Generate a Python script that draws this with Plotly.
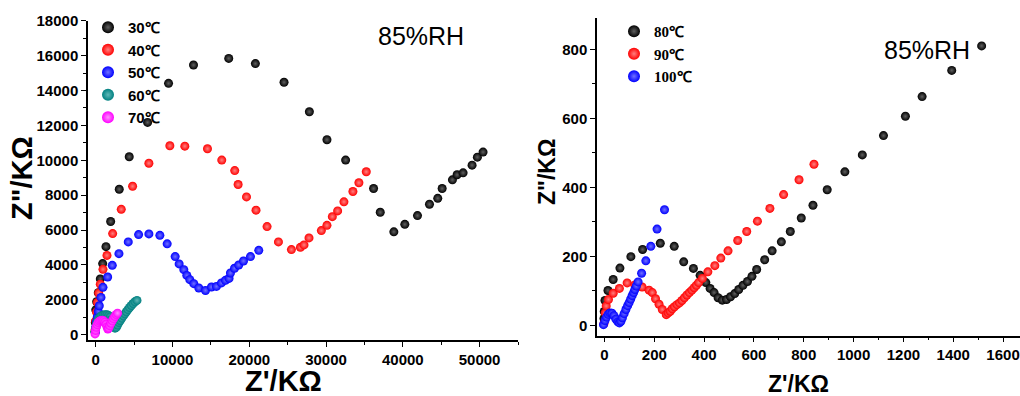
import plotly.graph_objects as go

# ---------------- Nyquist data, 85%RH, low temperatures (Z', Z'' in kOhm) ----------------
t30_re = [-80, -40, 10, 130, 340, 600, 910, 1340, 1950, 3070, 4370, 6760, 9490, 12740, 17330,
          20800, 24530, 27830, 30120, 32550, 36190, 37060, 38830, 40260, 41910, 43470, 44550,
          45120, 46460, 47070, 47850, 49020, 49710, 50450]
t30_im = [200, 700, 1430, 1890, 2410, 3200, 4080, 5050, 6490, 8340, 10200, 12170, 14410, 15460,
          15840, 15540, 14470, 12780, 11180, 10010, 8380, 7020, 5900, 6330, 6830, 7480, 7820,
          8380, 8880, 9170, 9280, 9720, 10180, 10470]

t40_re = [-60, 0, 100, 230, 390, 600, 950, 1470, 2210, 3330, 4810, 6930, 9660, 11610, 14560,
          16420, 18110, 18550, 19640, 20880, 22320, 23800, 25490, 26660, 27130, 27780, 29390,
          30120, 30820, 31510, 32330, 33500, 34280, 35240]
t40_im = [300, 800, 1300, 1850, 2390, 2900, 3750, 4550, 5800, 7190, 8510, 9830, 10830, 10810,
          10660, 10010, 9410, 8610, 7900, 7140, 6200, 5320, 4880, 5010, 5150, 5550, 5970, 6270,
          6770, 7100, 7620, 8210, 8710, 9340]

t50_re = [-40, 20, 100, 210, 340, 470, 690, 950, 1560, 2160, 3030, 4240, 5590, 6930, 8360, 9310,
          10350, 10870, 11480, 11870, 12260, 12780, 13430, 14300, 15080, 15730, 16380, 16900,
          17370, 17550, 18080, 18630, 19250, 20160, 21240]
t50_im = [150, 450, 750, 1020, 1340, 1660, 2140, 2720, 3310, 3980, 4650, 5320, 5740, 5780, 5700,
          5210, 4480, 4060, 3730, 3400, 3160, 2930, 2680, 2540, 2740, 2770, 2970, 3120, 3230,
          3540, 3810, 4000, 4230, 4480, 4840]

t60_re = [-80, 0, 120, 260, 420, 600, 800, 1020, 1250, 1480, 1700, 1900, 2080, 2250, 2400, 2520,
          2680, 2850, 3020, 3200, 3400, 3600, 3800, 4000, 4200, 4420, 4650, 4880, 5120, 5380]
t60_im = [150, 380, 620, 800, 930, 1030, 1090, 1130, 1150, 1140, 1100, 1020, 880, 700, 520, 380,
          420, 560, 700, 820, 950, 1080, 1200, 1320, 1440, 1560, 1680, 1790, 1890, 1970]

t70_re = [-80, -20, 60, 180, 330, 500, 680, 860, 1040, 1200, 1350, 1480, 1580, 1680, 1820, 1980,
          2150, 2320, 2500, 2680, 2850]
t70_im = [50, 250, 430, 580, 700, 780, 820, 830, 800, 720, 600, 450, 330, 380, 520, 660, 800,
          930, 1050, 1160, 1240]

# ---------------- Nyquist data, 85%RH, high temperatures ----------------
t80_re = [-2, -1, 2, 14, 35, 62, 106, 153, 224, 280, 318, 357, 384, 407, 424, 440, 456, 473, 490,
          506, 523, 539, 556, 574, 592, 611, 643, 673, 710, 746, 790, 837, 894, 965, 1035, 1120,
          1208, 1275, 1394, 1514]
t80_im = [20, 40, 72, 101, 133, 166, 199, 220, 238, 229, 184, 165, 145, 124, 107, 95, 80, 73, 75,
          83, 92, 104, 116, 127, 142, 162, 190, 216, 242, 272, 311, 348, 393, 445, 494, 550, 606,
          663, 739, 810]

t90_re = [-2, 3, 7, 16, 35, 60, 91, 122, 151, 179, 192, 205, 219, 232, 248, 256, 264, 272, 281,
          291, 301, 311, 321, 331, 341, 351, 360, 369, 378, 393, 415, 443, 467, 496, 535, 571,
          614, 664, 719, 781, 841]
t90_im = [5, 36, 56, 75, 93, 107, 123, 117, 111, 102, 95, 77, 61, 46, 31, 36, 41, 48, 54, 60, 65,
          72, 80, 88, 95, 102, 109, 116, 124, 136, 155, 173, 195, 216, 246, 272, 302, 339, 379,
          422, 467]

t100_re = [-4, 2, 8, 15, 22, 30, 38, 46, 54, 60, 66, 72, 79, 86, 93, 99, 105, 111, 117, 122, 128,
           135, 149, 166, 186, 211, 241]
t100_im = [2, 14, 24, 32, 36, 35, 28, 18, 10, 7, 12, 22, 34, 46, 57, 66, 76, 86, 95, 104, 114,
           126, 151, 187, 229, 279, 335]

left_series = [
    ("30℃", t30_re, t30_im, "#000000", "#606060"),
    ("40℃", t40_re, t40_im, "#ff0000", "#ff8080"),
    ("50℃", t50_re, t50_im, "#0000ff", "#7070ff"),
    ("60℃", t60_re, t60_im, "#008080", "#60b8b8"),
    ("70℃", t70_re, t70_im, "#ff00ff", "#ff90ff"),
]
right_series = [
    ("80℃", t80_re, t80_im, "#000000", "#606060"),
    ("90℃", t90_re, t90_im, "#ff0000", "#ff8080"),
    ("100℃", t100_re, t100_im, "#0000ff", "#7070ff"),
]

W, H = 1020, 396
fig = go.Figure()

for name, xs, ys, col, hi in left_series:
    fig.add_trace(go.Scatter(
        x=xs, y=ys, mode="markers", name=name, xaxis="x", yaxis="y", legend="legend",
        marker=dict(size=9, color=col, line=dict(width=0),
                    gradient=dict(type="radial", color=hi)),
    ))

for name, xs, ys, col, hi in right_series:
    fig.add_trace(go.Scatter(
        x=xs, y=ys, mode="markers", name=name, xaxis="x2", yaxis="y2", legend="legend2",
        marker=dict(size=9, color=col, line=dict(width=0),
                    gradient=dict(type="radial", color=hi)),
    ))

tickfont = dict(family="Arial, Liberation Sans", size=15, color="black", weight="bold")
axis_common = dict(
    showgrid=False, zeroline=False, showline=True, linecolor="black", linewidth=1.5,
    ticks="outside", ticklen=5, tickwidth=1.3, tickcolor="black", tickfont=tickfont,
    mirror=False, automargin=False, ticklabeloverflow="allow", tickformat="d",
)

fig.update_layout(
    width=W, height=H, margin=dict(l=0, r=0, t=0, b=0, autoexpand=False),
    paper_bgcolor="white", plot_bgcolor="white",
    xaxis=dict(domain=[88 / W, 518 / W], range=[-1000, 55000], anchor="y",
               tickvals=[0, 10000, 20000, 30000, 40000, 50000],
               minor=dict(dtick=5000, tick0=0, ticks="outside", ticklen=3, tickcolor="black"),
               **axis_common),
    yaxis=dict(domain=[(H - 340) / H, (H - 20.7) / H], range=[-300, 18000], anchor="x",
               dtick=2000, tick0=0,
               minor=dict(dtick=1000, tick0=0, ticks="outside", ticklen=3, tickcolor="black"),
               **axis_common),
    xaxis2=dict(domain=[597 / W, 1.0], range=[-30, 1668], anchor="y2",
                dtick=200, tick0=0,
                minor=dict(dtick=100, tick0=0, ticks="outside", ticklen=3, tickcolor="black"),
                **axis_common),
    yaxis2=dict(domain=[(H - 335.7) / H, (H - 18.3) / H], range=[-30, 890], anchor="x2",
                dtick=200, tick0=0,
                minor=dict(dtick=100, tick0=0, ticks="outside", ticklen=3, tickcolor="black"),
                **axis_common),
    legend=dict(x=88 / W, y=1 - 11 / H, xanchor="left", yanchor="top",
                bgcolor="rgba(0,0,0,0)", borderwidth=0, tracegroupgap=0,
                font=dict(family="Arial, Liberation Sans", size=15, color="black", weight="bold"),
                itemsizing="constant"),
    legend2=dict(x=614 / W, y=1 - 15 / H, xanchor="left", yanchor="top",
                 bgcolor="rgba(0,0,0,0)", borderwidth=0, tracegroupgap=0,
                 font=dict(family="Times New Roman, Liberation Serif", size=15, color="black",
                           weight="bold"),
                 itemsizing="constant"),
)

ann_title = dict(family="Arial, Liberation Sans", color="black", weight="bold")
annotations = [
    dict(text="85%RH", x=421 / W, y=1 - 36 / H, xref="paper", yref="paper", showarrow=False,
         xanchor="center", yanchor="middle",
         font=dict(family="Arial, Liberation Sans", size=25, color="black")),
    dict(text="85%RH", x=927 / W, y=1 - 50 / H, xref="paper", yref="paper", showarrow=False,
         xanchor="center", yanchor="middle",
         font=dict(family="Arial, Liberation Sans", size=25, color="black")),
    dict(text="Z'/KΩ", x=283 / W, y=1 - 381 / H, xref="paper", yref="paper", showarrow=False,
         xanchor="center", yanchor="middle", font=dict(size=29, **ann_title)),
    dict(text='Z"/KΩ', x=22 / W, y=1 - 178 / H, xref="paper", yref="paper", showarrow=False,
         xanchor="center", yanchor="middle", textangle=-90, font=dict(size=29, **ann_title)),
    dict(text="Z'/KΩ", x=798 / W, y=1 - 384 / H, xref="paper", yref="paper", showarrow=False,
         xanchor="center", yanchor="middle", font=dict(size=23, **ann_title)),
    dict(text='Z"/KΩ', x=547 / W, y=1 - 172 / H, xref="paper", yref="paper", showarrow=False,
         xanchor="center", yanchor="middle", textangle=-90, font=dict(size=23, **ann_title)),
]
fig.update_layout(annotations=annotations)

fig.write_html("out.html")
